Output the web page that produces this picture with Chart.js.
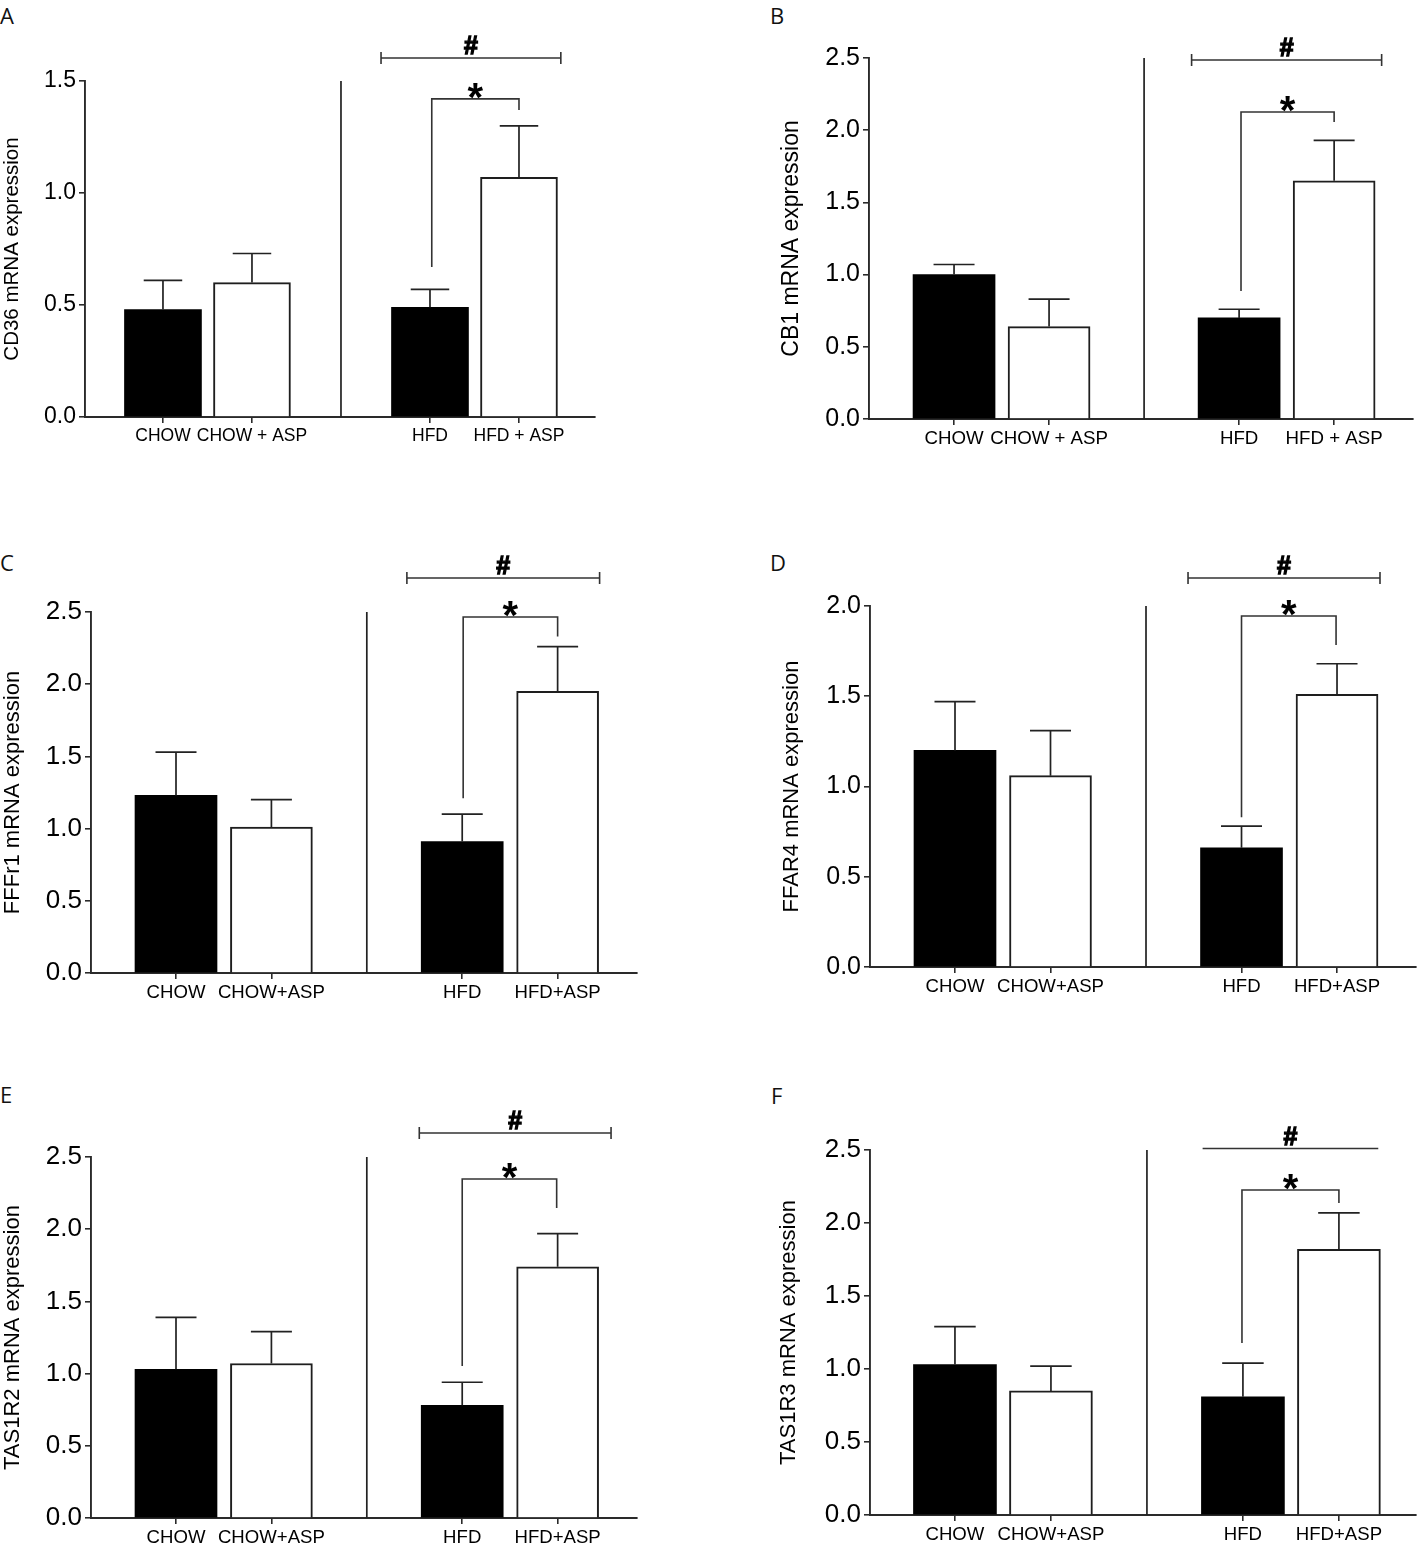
<!DOCTYPE html>
<html><head><meta charset="utf-8">
<script src="https://cdn.jsdelivr.net/npm/chart.js@4.4.0/dist/chart.umd.min.js"></script>
<style>
html,body{margin:0;padding:0;background:#fff;}
body{width:1418px;height:1546px;position:relative;overflow:hidden;}
canvas{position:absolute;}
.lbl{position:absolute;font-family:'Open Sans',sans-serif;font-size:22px;line-height:22px;color:#111;}
</style></head><body>
<script>
// ---------------- data ----------------
const panelLetters = ["A","B","C","D","E","F"];
const yTitles = ["CD36 mRNA expression","CB1 mRNA expression","FFFr1 mRNA expression","FFAR4 mRNA expression","TAS1R2 mRNA expression","TAS1R3 mRNA expression"];
const catsSpaced = ["CHOW","CHOW + ASP","HFD","HFD + ASP"];
const catsTight  = ["CHOW","CHOW+ASP","HFD","HFD+ASP"];

const meanA = [0.48,0.60,0.49,1.07]; const semA = [0.13,0.13,0.08,0.23];
const meanB = [1.00,0.64,0.70,1.65]; const semB = [0.07,0.19,0.06,0.28];
const meanC = [1.23,1.01,0.91,1.95]; const semC = [0.30,0.19,0.19,0.31];
const meanD = [1.20,1.06,0.66,1.51]; const semD = [0.27,0.25,0.12,0.17];
const meanE = [1.03,1.07,0.78,1.74]; const semE = [0.36,0.22,0.16,0.23];
const meanF = [1.03,0.85,0.81,1.82]; const semF = [0.26,0.17,0.23,0.25];

const yTicks15 = [0,0.5,1.0,1.5];
const yTicks20 = [0,0.5,1.0,1.5,2.0];
const yTicks25 = [0,0.5,1.0,1.5,2.0,2.5];

const hashMark = "#";
const starMark = "*";

// ---------------- layout / style ----------------
const FONT = "'Liberation Sans', Arial, Helvetica, sans-serif";
const panels = [
 {id:'A', mean:meanA, sem:semA, cats:catsSpaced, yticks:yTicks15, title:yTitles[0],
  L:0,T:0,W:709,H:470, left:85,right:595,top:81,bottom:417, xmin:0.124,xmax:5.854, bar:77,
  tick:23,titleSize:20.5,cat:17.5,titlePad:0,
  hashY:1.603,hashX:[3.45,5.47],hashCaps:true, starY:1.42,starX:[4.02,5.0],starLB:0.67,starRB:1.37,
  letter:{x:0,y:4}},
 {id:'B', mean:meanB, sem:semB, cats:catsSpaced, yticks:yTicks25, title:yTitles[1],
  L:709,T:0,W:709,H:470, left:869,right:1413,top:58,bottom:419, xmin:0.105,xmax:5.83, bar:82,
  tick:25,titleSize:23,cat:18.7,titlePad:69,
  hashY:2.486,hashX:[3.5,5.5],hashCaps:true, starY:2.126,starX:[4.02,5.0],starLB:0.886,starRB:2.057,
  letter:{x:770,y:4}},
 {id:'C', mean:meanC, sem:semC, cats:catsTight, yticks:yTicks25, title:yTitles[2],
  L:0,T:540,W:709,H:480, left:91,right:637,top:612,bottom:973, xmin:0.109,xmax:5.832, bar:82,
  tick:26,titleSize:22,cat:18.6,titlePad:0,
  hashY:2.735,hashX:[3.42,5.44],hashCaps:true, starY:2.465,starX:[4.01,5.0],starLB:1.21,starRB:2.33,
  letter:{x:0,y:551}},
 {id:'D', mean:meanD, sem:semD, cats:catsTight, yticks:yTicks20, title:yTitles[3],
  L:709,T:540,W:709,H:480, left:870,right:1416,top:606,bottom:967, xmin:0.11,xmax:5.827, bar:82,
  tick:25,titleSize:22,cat:18.6,titlePad:70,
  hashY:2.155,hashX:[3.44,5.45],hashCaps:true, starY:1.945,starX:[4.0,4.99],starLB:0.83,starRB:1.784,
  letter:{x:770,y:551}},
 {id:'E', mean:meanE, sem:semE, cats:catsTight, yticks:yTicks25, title:yTitles[4],
  L:0,T:1080,W:709,H:466, left:91,right:637,top:1157,bottom:1518, xmin:0.109,xmax:5.832, bar:82,
  tick:26,titleSize:22,cat:18.6,titlePad:0,
  hashY:2.666,hashX:[3.55,5.56],hashCaps:true, starY:2.348,starX:[4.0,4.99],starLB:1.053,starRB:2.147,
  letter:{x:0,y:1083}},
 {id:'F', mean:meanF, sem:semF, cats:catsTight, yticks:yTicks25, title:yTitles[5],
  L:709,T:1080,W:709,H:466, left:870,right:1416,top:1150,bottom:1515, xmin:0.115,xmax:5.803, bar:83,
  tick:26,titleSize:22,cat:18.6,titlePad:67,
  hashY:2.51,hashX:[3.58,5.41],hashCaps:false, starY:2.226,starX:[3.99,5.0],starLB:1.178,starRB:2.137,
  letter:{x:771,y:1084}}
];

function annotPlugin(p){
  return { id:'annot'+p.id, afterDatasetsDraw(chart){
    const ctx=chart.ctx, xs=chart.scales.x, ys=chart.scales.y, ca=chart.chartArea;
    const meta=chart.getDatasetMeta(0);
    ctx.save();
    ctx.lineCap='butt';
    ctx.strokeStyle='#222'; ctx.lineWidth=1.7;
    meta.data.forEach((bar,i)=>{
      const t = ys.getPixelForValue(p.mean[i]+p.sem[i]);
      const hw = p.bar/4;
      ctx.beginPath();
      ctx.moveTo(bar.x, bar.y); ctx.lineTo(bar.x, t);
      ctx.moveTo(bar.x-hw, t); ctx.lineTo(bar.x+hw, t);
      ctx.stroke();
    });
    // divider between the two groups
    const dx = xs.getPixelForValue(3);
    ctx.beginPath(); ctx.moveTo(dx, ca.top); ctx.lineTo(dx, ca.bottom); ctx.stroke();
    // # bracket
    ctx.strokeStyle='#333'; ctx.lineWidth=1.6;
    const hy=ys.getPixelForValue(p.hashY), h1=xs.getPixelForValue(p.hashX[0]), h2=xs.getPixelForValue(p.hashX[1]);
    ctx.beginPath(); ctx.moveTo(h1,hy); ctx.lineTo(h2,hy);
    if(p.hashCaps){ ctx.moveTo(h1,hy-6); ctx.lineTo(h1,hy+6); ctx.moveTo(h2,hy-6); ctx.lineTo(h2,hy+6); }
    ctx.stroke();
    ctx.fillStyle='#000'; ctx.textAlign='center'; ctx.textBaseline='alphabetic';
    ctx.font='bold 25px '+FONT;
    ctx.fillText(hashMark,(h1+h2)/2,hy-4);
    ctx.strokeStyle='#000'; ctx.lineWidth=1.3;
    ctx.strokeText(hashMark,(h1+h2)/2,hy-4);
    // * bracket
    ctx.strokeStyle='#333'; ctx.lineWidth=1.6;
    const sy=ys.getPixelForValue(p.starY), s1=xs.getPixelForValue(p.starX[0]), s2=xs.getPixelForValue(p.starX[1]);
    ctx.beginPath();
    ctx.moveTo(s1, ys.getPixelForValue(p.starLB)); ctx.lineTo(s1, sy); ctx.lineTo(s2, sy); ctx.lineTo(s2, ys.getPixelForValue(p.starRB));
    ctx.stroke();
    ctx.font='bold 40px '+FONT;
    ctx.fillText(starMark,(s1+s2)/2, sy+12);
    ctx.restore();
  }};
}

function makePanel(p, letter){
  const lab = document.createElement('div');
  lab.className='lbl'; lab.textContent=letter;
  lab.style.left=p.letter.x+'px'; lab.style.top=p.letter.y+'px';
  document.body.appendChild(lab);

  const cv = document.createElement('canvas');
  cv.width=p.W; cv.height=p.H;
  cv.style.left=p.L+'px'; cv.style.top=p.T+'px';
  cv.style.width=p.W+'px'; cv.style.height=p.H+'px';
  document.body.appendChild(cv);
  const slots = p.cats.map((c,i)=> i<2 ? i+1 : i+2);
  const pts = p.mean.map((v,i)=>({x:slots[i], y:v}));
  new Chart(cv.getContext('2d'), {
    type:'bar',
    data:{datasets:[{
      data:pts,
      backgroundColor:p.mean.map((v,i)=> i%2===0?'#000000':'#ffffff'),
      borderColor:p.mean.map((v,i)=> i%2===0?'#000000':'#1e1e1e'),
      borderWidth:p.mean.map((v,i)=> i%2===0?0:2),
      borderSkipped:'bottom',
      barThickness:p.bar
    }]},
    options:{
      responsive:false, animation:false, devicePixelRatio:1,
      layout:{padding:{top:p.top-p.T, right:p.L+p.W-p.right, left:0, bottom:0}},
      plugins:{legend:{display:false}, tooltip:{enabled:false}},
      scales:{
        x:{type:'linear', min:p.xmin, max:p.xmax, offset:false,
          afterBuildTicks(s){ s.ticks = slots.map(v=>({value:v})); },
          afterFit(s){ s.height = p.T+p.H-p.bottom; s.paddingLeft=0; s.paddingRight=0; },
          ticks:{autoSkip:false, maxRotation:0, minRotation:0, padding:3, color:'#000',
            font:{family:FONT, size:p.cat},
            callback(v){ const i=slots.indexOf(v); return i>=0 ? p.cats[i] : ''; }},
          grid:{display:true, offset:false, drawOnChartArea:false, drawTicks:true, tickLength:6, color:'#2a2a2a', lineWidth:1.6},
          border:{display:true, color:'#2a2a2a', width:1.9}
        },
        y:{type:'linear', min:0, max:p.yticks[p.yticks.length-1],
          afterBuildTicks(s){ s.ticks = p.yticks.map(v=>({value:v})); },
          afterFit(s){ s.width = p.left-p.L; s.paddingTop=0; s.paddingBottom=0; },
          ticks:{padding:3, color:'#000', font:{family:FONT, size:p.tick},
            callback(v){ return Number(v).toFixed(1); }},
          grid:{display:true, drawOnChartArea:false, drawTicks:true, tickLength:6, color:'#2a2a2a', lineWidth:1.6},
          border:{display:true, color:'#2a2a2a', width:1.9},
          title:{display:true, text:p.title, color:'#000', font:{family:FONT, size:p.titleSize},
            padding:{top:p.titlePad, bottom:0}}
        }
      }
    },
    plugins:[annotPlugin(p)]
  });
}
panels.forEach((p,i)=>makePanel(p, panelLetters[i]));
</script>
</body></html>
